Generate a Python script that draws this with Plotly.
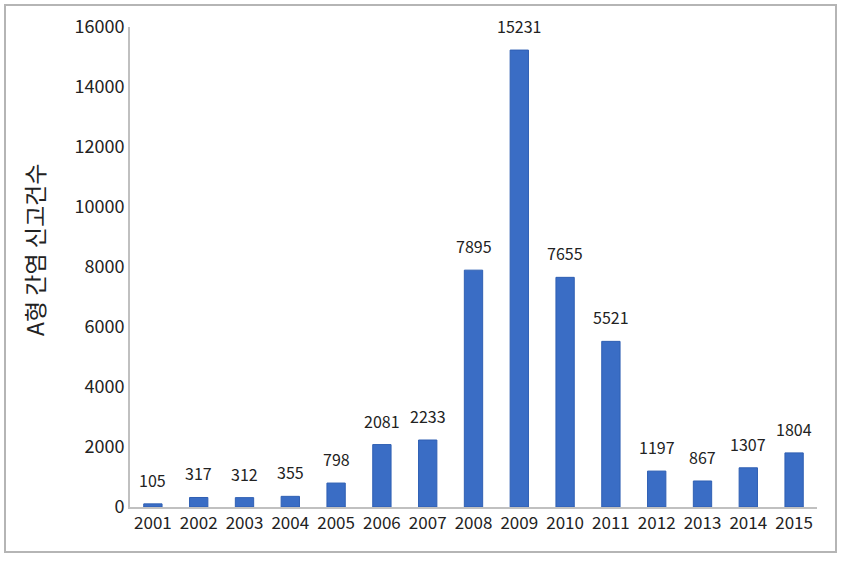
import plotly.graph_objects as go

years = [str(y) for y in range(2001, 2016)]
cases = [105, 317, 312, 355, 798, 2081, 2233, 7895, 15231, 7655, 5521, 1197, 867, 1307, 1804]
y_title = "A형 간염 신고건수"
y_ticks = [0, 2000, 4000, 6000, 8000, 10000, 12000, 14000, 16000]

FONT = "Noto Sans CJK KR"

fig = go.Figure(go.Bar(
    x=years, y=cases, width=0.4,
    marker=dict(color="#3a6dc5", line=dict(color="#2f5fb3", width=1)),
))

# category axis: annotation x given as category index
for i, v in enumerate(cases):
    fig.add_annotation(x=i, y=v, text=str(v), showarrow=False, yanchor="bottom",
                       yshift=10, font=dict(family=FONT, size=16, color="#222"))

L, R, T, B = 130, 25, 27, 55
W, H = 842, 562
pw, ph = W - L - R, H - T - B

# y-axis title as rotated annotation
fig.add_annotation(xref="paper", yref="paper", x=(34 - L) / pw, y=(H - B - 250) / ph,
                   text=y_title, textangle=-90, showarrow=False,
                   xanchor="center", yanchor="middle",
                   font=dict(family=FONT, size=23, color="#222"))

fig.update_layout(
    width=W, height=H,
    margin=dict(l=L, r=R, t=T, b=B),
    paper_bgcolor="white", plot_bgcolor="white",
    font=dict(family=FONT, color="#222"),
    showlegend=False,
    xaxis=dict(type="category", range=[-0.5, len(years) - 0.5], showline=True,
               linecolor="#c0c0c0", linewidth=2,
               ticks="", tickfont=dict(size=17, family=FONT), showgrid=False),
    yaxis=dict(range=[0, 16000], tickvals=y_ticks, tickformat="d", showline=True,
               linecolor="#c0c0c0", linewidth=2, ticks="", showgrid=False, zeroline=False,
               tickfont=dict(size=18, family=FONT)),
    shapes=[dict(type="rect", xref="paper", yref="paper",
                 x0=(5 - L) / pw, x1=(836 - L) / pw,
                 y0=(H - B - 552) / ph, y1=(H - B - 5) / ph,
                 line=dict(color="#b5b5b5", width=2), fillcolor="rgba(0,0,0,0)")],
)

fig.write_html("out.html")
